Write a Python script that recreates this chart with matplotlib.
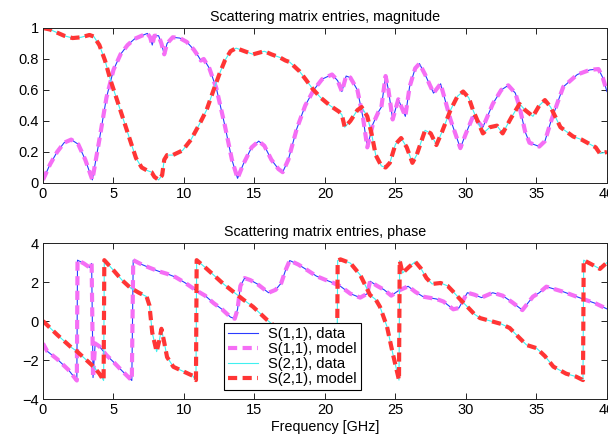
import matplotlib

matplotlib.use("Agg")
import matplotlib.pyplot as plt

plt.rcParams.update({
    "font.family": ["Liberation Sans", "DejaVu Sans"],
    "font.size": 10.5,
})

# |S11| and |S21| versus frequency (GHz)
f_mag11 = [0.0, 0.5, 1.0, 1.5, 2.0, 2.5, 3.0, 3.5, 4.0, 4.5, 5.0, 5.5, 6.0, 6.5,
           7.0, 7.4, 7.6, 7.75, 7.9, 8.2, 8.4, 8.6, 8.8, 9.2, 9.7, 10.2, 10.7,
           11.0, 11.2, 11.4, 11.8, 12.3, 12.9, 13.4, 13.8, 14.2, 14.8, 15.3,
           15.7, 16.2, 16.7, 17.0, 17.4, 18.0, 18.6, 19.2, 19.8, 20.5, 20.9,
           21.2, 21.5, 21.8, 22.3, 22.7, 23.0, 23.4, 23.8, 24.0, 24.3, 24.5,
           24.8, 25.2, 25.7, 26.0, 26.4, 26.7, 27.1, 27.7, 28.2, 28.9, 29.6,
           30.0, 30.5, 31.2, 31.9, 32.5, 33.0, 33.5, 33.8, 34.2, 34.5, 35.2,
           35.6, 36.0, 36.5, 36.9, 37.4, 37.9, 38.8, 39.4, 39.7, 40.0]
mag11 = [0.02, 0.12, 0.20, 0.26, 0.28, 0.25, 0.15, 0.02, 0.28, 0.55, 0.73, 0.83,
         0.89, 0.93, 0.95, 0.965, 0.94, 0.89, 0.95, 0.95, 0.90, 0.83, 0.90, 0.94,
         0.935, 0.91, 0.86, 0.82, 0.79, 0.80, 0.74, 0.61, 0.37, 0.15, 0.03, 0.12,
         0.23, 0.27, 0.24, 0.15, 0.09, 0.07, 0.15, 0.35, 0.50, 0.60, 0.67, 0.70,
         0.66, 0.59, 0.69, 0.68, 0.60, 0.42, 0.23, 0.38, 0.46, 0.49, 0.69, 0.60,
         0.41, 0.54, 0.43, 0.62, 0.74, 0.77, 0.70, 0.58, 0.64, 0.41, 0.225, 0.32,
         0.43, 0.36, 0.51, 0.60, 0.63, 0.58, 0.49, 0.33, 0.26, 0.235, 0.27, 0.39,
         0.52, 0.62, 0.66, 0.70, 0.73, 0.735, 0.68, 0.59]

f_mag21 = [0.0, 0.5, 1.0, 1.5, 2.1, 2.7, 3.3, 3.6, 4.0, 4.4, 4.8, 5.2, 5.7, 6.2,
           6.6, 7.0, 7.4, 7.7, 7.9, 8.2, 8.45, 8.6, 8.8, 9.2, 9.9, 10.5, 11.1,
           11.6, 12.1, 12.5, 12.9, 13.3, 13.7, 14.3, 14.9, 15.3, 15.7, 16.2,
           16.8, 17.2, 17.5, 18.2, 18.7, 19.1, 19.7, 20.35, 21.0, 21.2, 21.4,
           21.8, 22.3, 22.6, 23.0, 23.3, 23.6, 24.0, 24.3, 24.6, 25.0, 25.4,
           25.8, 26.2, 26.5, 27.1, 27.5, 27.9, 28.3, 28.9, 29.4, 29.8, 30.2,
           30.5, 31.2, 31.7, 32.2, 32.6, 33.2, 33.8, 34.2, 34.75, 35.2, 35.6,
           36.0, 36.7, 37.6, 38.2, 38.8, 39.2, 39.5, 40.0]
mag21 = [1.0, 0.99, 0.97, 0.95, 0.935, 0.94, 0.955, 0.945, 0.89, 0.79, 0.66, 0.55,
         0.41, 0.27, 0.16, 0.10, 0.08, 0.07, 0.04, 0.02, 0.05, 0.15, 0.18, 0.18,
         0.21, 0.28, 0.38, 0.47, 0.60, 0.70, 0.79, 0.85, 0.87, 0.85, 0.83, 0.84,
         0.85, 0.83, 0.81, 0.79, 0.78, 0.72, 0.66, 0.61, 0.55, 0.50, 0.46, 0.44,
         0.36, 0.40, 0.47, 0.49, 0.43, 0.32, 0.18, 0.11, 0.10, 0.13, 0.25, 0.29,
         0.23, 0.13, 0.18, 0.34, 0.32, 0.245, 0.33, 0.47, 0.56, 0.59, 0.55, 0.47,
         0.32, 0.36, 0.37, 0.32, 0.42, 0.51, 0.47, 0.43, 0.50, 0.535, 0.49, 0.36,
         0.30, 0.28, 0.25, 0.23, 0.19, 0.20]

# phase of S11 and S21 (rad, wrapped)
f_ph11 = [0.0, 0.3, 1.0, 1.8, 2.4, 2.45, 2.9, 3.3, 3.45, 3.55, 3.7, 4.0, 4.5, 5.0,
          5.6, 6.3, 6.4, 7.0, 7.6, 8.2, 8.8, 9.4, 10.1, 10.8, 11.5, 12.1, 12.7,
          13.3, 13.6, 13.8, 14.0, 14.3, 14.7, 15.2, 16.0, 16.5, 16.9, 17.2, 17.5,
          18.1, 18.7, 19.4, 20.0, 20.6, 21.1, 21.8, 22.5, 23.0, 23.2, 23.7, 24.2,
          24.7, 25.2, 25.9, 26.4, 26.95, 27.9, 28.4, 29.1, 29.5, 30.1, 30.6,
          31.1, 31.9, 32.6, 33.3, 34.0, 34.75, 35.2, 35.7, 36.9, 38.3, 39.2, 40.0]
ph11 = [-1.15, -1.55, -1.95, -2.5, -3.05, 3.12, 2.95, 2.75, 2.95, -2.9, -1.15,
        -1.3, -1.75, -2.1, -2.55, -3.05, 3.12, 2.9, 2.72, 2.55, 2.42, 2.25, 1.95,
        1.6, 1.3, 0.92, 0.6, 0.2, 0.12, 0.6, 1.8, 2.2, 2.1, 1.9, 1.45, 1.6, 1.95,
        2.6, 3.1, 2.9, 2.63, 2.3, 2.12, 1.95, 1.78, 1.4, 1.2, 1.4, 2.04, 1.8, 1.6,
        1.3, 1.55, 1.78, 1.5, 1.25, 1.13, 1.0, 0.6, 0.67, 1.45, 1.35, 1.2, 1.45,
        1.3, 0.95, 0.56, 1.25, 1.45, 1.76, 1.5, 1.13, 0.9, 0.62]

f_ph21 = [0.0, 1.0, 2.0, 2.4, 3.0, 3.6, 4.0, 4.3, 4.35, 5.0, 5.6, 6.2, 6.8, 7.35,
          7.55, 7.75, 8.06, 8.25, 8.4, 8.6, 8.8, 9.25, 10.0, 10.6, 10.85, 10.9,
          11.5, 12.1, 12.8, 13.5, 14.2, 14.9, 15.9, 17.5, 19.2, 20.85, 20.9,
          21.1, 21.8, 22.5, 23.2, 23.6, 23.9, 24.4, 24.8, 25.25, 25.3, 25.5,
          26.0, 26.4, 26.8, 27.2, 27.6, 28.2, 28.7, 29.1, 29.6, 30.1, 30.6,
          31.0, 31.9, 32.5, 33.1, 33.7, 34.3, 35.0, 35.6, 36.2, 37.1, 37.8,
          38.3, 38.35, 39.0, 39.5, 40.0]
ph21 = [0.0, -0.7, -1.35, -1.55, -1.95, -2.35, -2.7, -3.05, 3.12, 2.6, 2.1, 1.7,
        1.45, 1.25, 0.8, -0.6, -1.57, -1.0, -0.4, -1.1, -1.85, -2.35, -2.6, -2.8,
        -3.03, 3.12, 2.75, 2.36, 1.9, 1.5, 1.1, 0.73, 0.05, -0.9, -1.9, -2.95,
        3.1, 3.16, 2.97, 2.36, 1.33, 1.1, 0.73, -0.29, -1.64, -3.03, 3.1, 2.46,
        2.8, 3.04, 2.7, 2.2, 1.9, 1.95, 1.8, 1.5, 1.1, 0.73, 0.35, 0.15, -0.03,
        -0.15, -0.36, -0.8, -1.23, -1.39, -1.8, -2.34, -2.7, -2.85, -3.03, 3.12,
        2.87, 2.67, 3.0]

labels = ["S(1,1), data", "S(1,1), model", "S(2,1), data", "S(2,1), model"]

BLUE = "#2b3bff"
MAG = "#f56ef5"
CYAN = "#40f0f0"
RED = "#ff3535"
DASH = (2.2, 1.3)

fig = plt.figure(figsize=(6.08, 4.38), dpi=100)
ax1 = fig.add_axes([0.0707, 0.5822, 0.9276, 0.3539])
ax2 = fig.add_axes([0.0707, 0.0890, 0.9276, 0.3562])


def draw(ax, f1, y1, f2, y2):
    ax.plot(f1, y1, color=BLUE, lw=0.8, label=labels[0])
    ax.plot(f1, y1, color=MAG, lw=3, dashes=DASH, label=labels[1])
    ax.plot(f2, y2, color=CYAN, lw=0.8, label=labels[2])
    ax.plot(f2, y2, color=RED, lw=3, dashes=DASH, label=labels[3])
    ax.set_xlim(0, 40)
    ax.set_xticks(range(0, 41, 5))
    ax.tick_params(direction="in", top=True, right=True, length=4,
                   width=0.6, labelsize=10.5, pad=3)
    for s in ax.spines.values():
        s.set_linewidth(0.7)
        s.set_color("#222222")


draw(ax1, f_mag11, mag11, f_mag21, mag21)
ax1.set_ylim(0, 1)
ax1.set_yticks([0, 0.2, 0.4, 0.6, 0.8, 1])
ax1.set_yticklabels(["0", "0.2", "0.4", "0.6", "0.8", "1"])
ax1.set_title("Scattering matrix entries, magnitude", fontsize=10.3, pad=5)

draw(ax2, f_ph11, ph11, f_ph21, ph21)
ax2.set_ylim(-4, 4)
ax2.set_yticks([-4, -2, 0, 2, 4])
ax2.set_title("Scattering matrix entries, phase", fontsize=10.3, pad=5)
ax2.set_xlabel("Frequency [GHz]", fontsize=10.3, labelpad=2)
leg = ax2.legend(loc="upper left", bbox_to_anchor=(0.321, 0.487),
                 borderaxespad=0, fancybox=False, framealpha=1,
                 edgecolor="black", handlelength=2.0, handletextpad=0.7,
                 labelspacing=0.05, borderpad=0.3, fontsize=10.6)
leg.get_frame().set_linewidth(0.8)

fig.savefig("out.png", dpi=100)
